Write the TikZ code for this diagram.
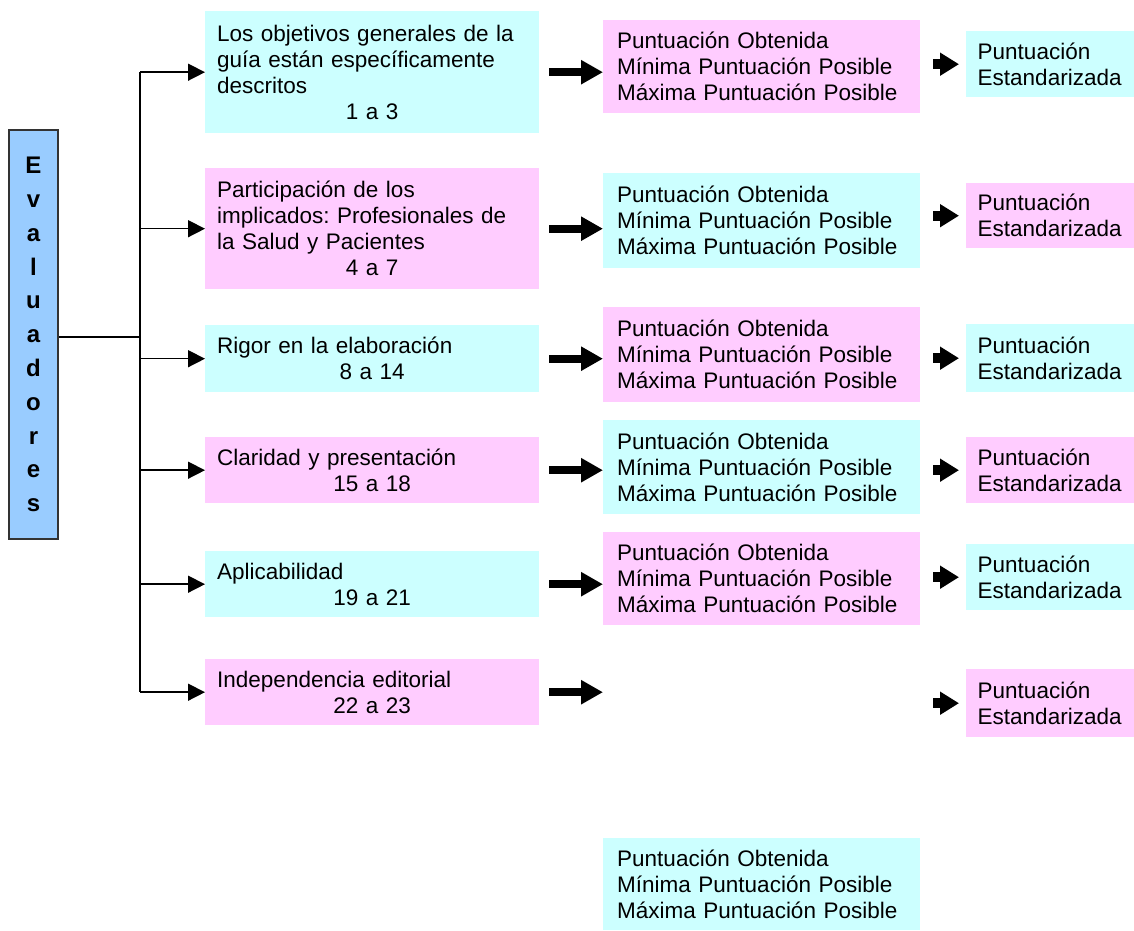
\documentclass[tikz,border=0pt]{standalone}
\usepackage{fontspec}
\setmainfont{Liberation Sans}
\frenchspacing
\definecolor{evalBlue}{RGB}{153,204,255}
\definecolor{itemCyan}{RGB}{204,255,255}
\definecolor{itemPink}{RGB}{255,204,255}
\usetikzlibrary{arrows.meta,positioning,calc}
\newcommand{\itemrange}[1]{\makebox[\linewidth]{#1}}

\begin{document}
\begin{tikzpicture}[x=1pt, y=-1pt,
  every node/.style={font=\fontsize{22.5}{26}\selectfont},
  dom/.style={anchor=north west, minimum width=334pt, text width=310pt,
              inner xsep=12pt, inner ysep=0pt, align=left},
  pts/.style={anchor=north west, minimum width=317pt, text width=289pt,
              inner xsep=14pt, inner ysep=0pt, align=left},
  std/.style={anchor=north west, minimum width=168pt, text width=145pt,
              inner xsep=11.5pt, inner ysep=0pt, align=left},
  branch/.style={line width=1.5pt, -{Triangle[length=17pt,width=17pt]}},
  bigarr/.style={line width=8pt, -{Triangle[length=22pt,width=23pt]}},
  smallarr/.style={line width=10pt, -{Triangle[length=19pt,width=22pt]}}
]
  \useasboundingbox (0,0) rectangle (1134,930);

  % evaluators
  \node[draw=black!80, line width=2pt, fill=evalBlue, anchor=north west,
        minimum width=49pt, minimum height=409pt, inner sep=0pt, align=center,
        font=\bfseries\fontsize{24}{33.8}\selectfont]
        (eval) at (8,129) {E\\v\\a\\l\\u\\a\\d\\o\\r\\e\\s};

  % domains
  \node[dom, fill=itemCyan, minimum height=122pt] (dom1) at (205,11)
    {Los objetivos generales de la\\guía están específicamente\\descritos\\\itemrange{1 a 3}};
  \node[dom, fill=itemPink, minimum height=121pt] (dom2) at (205,168)
    {Participación de los\\implicados: Profesionales de\\la Salud y Pacientes\\\itemrange{4 a 7}};
  \node[dom, fill=itemCyan, minimum height=67pt] (dom3) at (205,325)
    {Rigor en la elaboración\\\itemrange{8 a 14}};
  \node[dom, fill=itemPink, minimum height=66pt] (dom4) at (205,437)
    {Claridad y presentación\\\itemrange{15 a 18}};
  \node[dom, fill=itemCyan, minimum height=66pt] (dom5) at (205,551)
    {Aplicabilidad\\\itemrange{19 a 21}};
  \node[dom, fill=itemPink, minimum height=66pt] (dom6) at (205,659)
    {Independencia editorial\\\itemrange{22 a 23}};

  % scores
  \node[pts, fill=itemPink, minimum height=93pt] (pts1) at (603,20)
    {Puntuación Obtenida\\Mínima Puntuación Posible\\Máxima Puntuación Posible};
  \node[pts, fill=itemCyan, minimum height=95pt] (pts2) at (603,173)
    {Puntuación Obtenida\\Mínima Puntuación Posible\\Máxima Puntuación Posible};
  \node[pts, fill=itemPink, minimum height=95pt] (pts3) at (603,307)
    {Puntuación Obtenida\\Mínima Puntuación Posible\\Máxima Puntuación Posible};
  \node[pts, fill=itemCyan, minimum height=94pt] (pts4) at (603,420)
    {Puntuación Obtenida\\Mínima Puntuación Posible\\Máxima Puntuación Posible};
  \node[pts, fill=itemPink, minimum height=93pt] (pts5) at (603,532)
    {Puntuación Obtenida\\Mínima Puntuación Posible\\Máxima Puntuación Posible};
  \node[pts, fill=itemCyan, minimum height=92pt] (ptsb) at (603,838)
    {Puntuación Obtenida\\Mínima Puntuación Posible\\Máxima Puntuación Posible};
  \coordinate (pts6) at (dom6.east -| pts5.west);

  % standardised scores
  \node[std, fill=itemCyan, minimum height=66pt] (std1) at (966,31) {Puntuación\\Estandarizada};
  \node[std, fill=itemPink, minimum height=65pt] (std2) at (966,183) {Puntuación\\Estandarizada};
  \node[std, fill=itemCyan, minimum height=68pt] (std3) at (966,324) {Puntuación\\Estandarizada};
  \node[std, fill=itemPink, minimum height=66pt] (std4) at (966,437) {Puntuación\\Estandarizada};
  \node[std, fill=itemCyan, minimum height=66pt] (std5) at (966,544) {Puntuación\\Estandarizada};
  \node[std, fill=itemPink, minimum height=68pt] (std6) at (966,669) {Puntuación\\Estandarizada};

  % tree
  \coordinate (trunk) at (140,337);
  \draw[line width=1.5pt] (eval.east |- trunk) -- (trunk);
  \draw[line width=1.5pt] (trunk |- dom1.west) -- (trunk |- dom6.west);
  \draw[branch] (trunk |- dom1.west) -- (dom1.west);
  \draw[branch] (trunk |- dom2.west) -- (dom2.west);
  \draw[branch] (trunk |- dom3.west) -- (dom3.west);
  \draw[branch] (trunk |- dom4.west) -- (dom4.west);
  \draw[branch] (trunk |- dom5.west) -- (dom5.west);
  \draw[branch] (trunk |- dom6.west) -- (dom6.west);

  \draw[bigarr] ([xshift=10pt]dom1.east) -- (dom1.east -| pts1.west);
  \draw[bigarr] ([xshift=10pt]dom2.east) -- (dom2.east -| pts2.west);
  \draw[bigarr] ([xshift=10pt]dom3.east) -- (dom3.east -| pts3.west);
  \draw[bigarr] ([xshift=10pt]dom4.east) -- (dom4.east -| pts4.west);
  \draw[bigarr] ([xshift=10pt]dom5.east) -- (dom5.east -| pts5.west);
  \draw[bigarr] ([xshift=10pt]dom6.east) -- (pts6);

  \draw[smallarr] ([xshift=-33pt]std1.west) -- ([xshift=-7pt]std1.west);
  \draw[smallarr] ([xshift=-33pt]std2.west) -- ([xshift=-7pt]std2.west);
  \draw[smallarr] ([xshift=-33pt]std3.west) -- ([xshift=-7pt]std3.west);
  \draw[smallarr] ([xshift=-33pt]std4.west) -- ([xshift=-7pt]std4.west);
  \draw[smallarr] ([xshift=-33pt]std5.west) -- ([xshift=-7pt]std5.west);
  \draw[smallarr] ([xshift=-33pt]std6.west) -- ([xshift=-7pt]std6.west);
\end{tikzpicture}
\end{document}
